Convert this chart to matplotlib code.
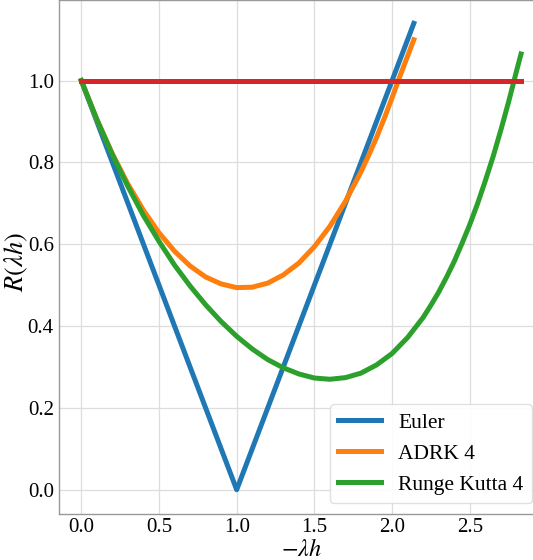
import matplotlib
matplotlib.use('Agg')
import matplotlib.pyplot as plt

# valores
x_euler = [0.0, 1.0, 2.14]
r_euler = [1.0, 0.0, 1.14]

x_adrk = [0.0, 0.1, 0.2, 0.3, 0.4, 0.5, 0.6, 0.7, 0.8, 0.9, 1.0, 1.1, 1.2,
          1.3, 1.4, 1.5, 1.6, 1.7, 1.8, 1.85, 1.9, 1.95, 2.0, 2.05, 2.1, 2.14]
r_adrk = [1.000, 0.905, 0.821, 0.747, 0.683, 0.628, 0.583, 0.547, 0.520, 0.503,
          0.494, 0.495, 0.505, 0.525, 0.554, 0.594, 0.644, 0.705, 0.777, 0.818,
          0.861, 0.908, 0.958, 1.010, 1.060, 1.100]

x_rk4 = [0.0, 0.1, 0.2, 0.3, 0.4, 0.5, 0.6, 0.7, 0.8, 0.9, 1.0, 1.1, 1.2, 1.3,
         1.4, 1.5, 1.6, 1.7, 1.8, 1.9, 2.0, 2.1, 2.2, 2.25, 2.3, 2.35, 2.4, 2.45,
         2.5, 2.55, 2.6, 2.65, 2.7, 2.75, 2.8, 2.83]
r_rk4 = [1.000, 0.905, 0.819, 0.741, 0.670, 0.607, 0.549, 0.498, 0.452, 0.411,
         0.375, 0.344, 0.318, 0.298, 0.283, 0.273, 0.270, 0.274, 0.285, 0.305,
         0.333, 0.372, 0.421, 0.451, 0.483, 0.519, 0.558, 0.602, 0.648, 0.699,
         0.755, 0.814, 0.879, 0.948, 1.022, 1.065]

x_limite = [0.0, 2.83]
r_limite = [1.0, 1.0]

etiquetas = ['Euler', 'ADRK 4', 'Runge Kutta 4']

plt.rcParams['font.family'] = ['Liberation Serif', 'DejaVu Serif']
plt.rcParams['mathtext.fontset'] = 'stix'
plt.rcParams['font.size'] = 15

fig = plt.figure(figsize=(5.33, 5.6), dpi=100)
ax = fig.add_axes([0.1113, 0.0821, 0.9075, 0.9179])

ax.plot(x_euler, r_euler, color='#1f77b4', lw=3.6, label=etiquetas[0], zorder=3)
ax.plot(x_adrk, r_adrk, color='#ff7f0e', lw=3.6, label=etiquetas[1], zorder=3)
ax.plot(x_rk4, r_rk4, color='#2ca02c', lw=3.6, label=etiquetas[2], zorder=3)
ax.plot(x_limite, r_limite, color='#d62728', lw=3.6, zorder=3)

ax.set_xlim(-0.1415, 2.9715)
ax.set_ylim(-0.0594, 1.197)
ax.set_xticks([0.0, 0.5, 1.0, 1.5, 2.0, 2.5])
ax.set_yticks([0.0, 0.2, 0.4, 0.6, 0.8, 1.0])
ax.set_xticklabels(['0.0', '0.5', '1.0', '1.5', '2.0', '2.5'])
ax.set_yticklabels(['0.0', '0.2', '0.4', '0.6', '0.8', '1.0'])
ax.tick_params(axis='y', length=0, pad=4, labelsize=15)
ax.tick_params(axis='x', length=0, pad=3, labelsize=15)
ax.grid(True, color='#dddddd', lw=0.9)
ax.set_axisbelow(True)
for s in ax.spines.values():
    s.set_color('#999999')
    s.set_linewidth(1.0)

ax.set_xlabel(r'$-\lambda h$', fontsize=17.5)
ax.set_ylabel(r'$R(\lambda h)$', fontsize=19)
ax.xaxis.set_label_coords(0.5, -0.048)
ax.yaxis.set_label_coords(-0.06, 0.49)

ax.legend(loc='lower right', fontsize=15.5, framealpha=0.9, edgecolor='#dddddd',
          handlelength=2.0)

plt.savefig('out.png', dpi=100)
